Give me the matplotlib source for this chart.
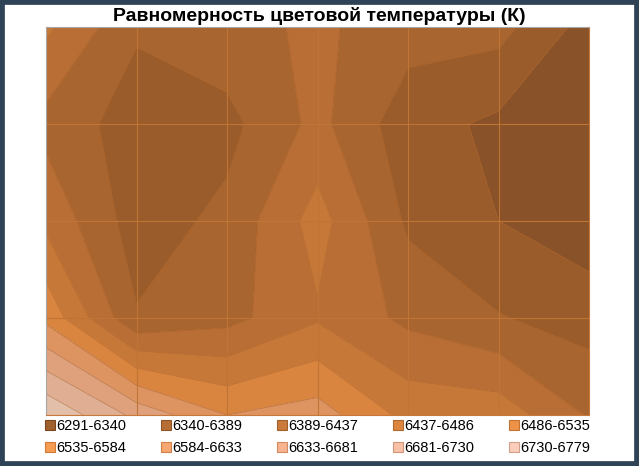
import numpy as np
import matplotlib
matplotlib.use("Agg")
import matplotlib.pyplot as plt
from matplotlib.lines import Line2D
from matplotlib.patches import Rectangle

plt.rcParams['font.family'] = ['Liberation Sans', 'DejaVu Sans']

# --- DATA (grid, top row first) ---
row0 = [6496, 6395, 6420, 6446, 6410, 6406, 6320]
row1 = [6421, 6366, 6374, 6451, 6360, 6330, 6291]
row2 = [6474, 6365, 6401, 6507, 6380, 6340, 6309]
row3 = [6571, 6393, 6420, 6480, 6425, 6392, 6368]
row4 = [6774, 6668, 6584, 6607, 6520, 6515, 6432]

levels = [6291, 6340, 6389, 6437, 6486, 6535, 6584, 6633, 6681, 6730, 6779]
band_labels = ["6291-6340", "6340-6389", "6389-6437", "6437-6486", "6486-6535",
               "6535-6584", "6584-6633", "6633-6681", "6681-6730", "6730-6779"]

# colours as they appear inside the plot (shaded) and in the legend
plot_colors = ['#8A5228', '#9A5C2A', '#A9652F', '#B86E34', '#C67838',
               '#D9843F', '#DE9460', '#DFA07C', '#E0AE92', '#E2BFA8']
legend_colors = ['#A0602E', '#B66E35', '#CA7A3B', '#DD8640', '#EE9248',
                 '#F59C52', '#F6A772', '#F8B390', '#F9C0A8', '#FACDBC']
legend_edges = ['#7A4520', '#8E5527', '#A0602C', '#B06A30', '#C07436',
                '#D07A38', '#D08048', '#D08A60', '#D09478', '#D0A088']

z = np.array([row0, row1, row2, row3, row4], dtype=float)
ny, nx = z.shape
x = np.arange(nx)
y = np.arange(ny)

fig = plt.figure(figsize=(6.39, 4.66), dpi=100)
ax = fig.add_axes([46 / 639, 51 / 466, 543 / 639, 388 / 466])

ax.contourf(x, y, z, levels=levels, colors=plot_colors)
ax.contour(x, y, z, levels=levels[1:-1], colors='#AA642E', linewidths=0.6, alpha=0.6)

# major gridlines at every data point
for xi in x[1:-1]:
    ax.axvline(xi, color='#BF7535', lw=0.8)
for yi in y[1:-1]:
    ax.axhline(yi, color='#BF7535', lw=0.8)

ax.set_xlim(0, nx - 1)
ax.set_ylim(ny - 1, 0)
ax.set_xticks([])
ax.set_yticks([])
for side in ['left', 'top']:
    ax.spines[side].set_color('#A6A6A6')
for side in ['right', 'bottom']:
    ax.spines[side].set_color('#C8783A')

fig.text(0.5, 1 - 16 / 466, "Равномерность цветовой температуры (К)",
         ha='center', va='center', fontsize=14, fontweight='bold')

# legend filled row by row, like Excel
handles = [Line2D([], [], marker='s', linestyle='none', markersize=7,
                  markerfacecolor=c, markeredgecolor=e, markeredgewidth=0.8)
           for c, e in zip(legend_colors, legend_edges)]
order = [0, 5, 1, 6, 2, 7, 3, 8, 4, 9]
fig.legend([handles[i] for i in order], [band_labels[i] for i in order],
           ncol=5, loc='center', bbox_to_anchor=(318 / 639, 1 - 437 / 466),
           frameon=False, fontsize=10.5, handlelength=0.6, handletextpad=0.1,
           columnspacing=2.45, labelspacing=0.55, borderpad=0)

# dark outer frame
fig.patches.append(Rectangle((0, 0), 1, 1, transform=fig.transFigure,
                             fill=False, edgecolor='#2F4356', lw=7))

fig.savefig('out.png', dpi=100)
